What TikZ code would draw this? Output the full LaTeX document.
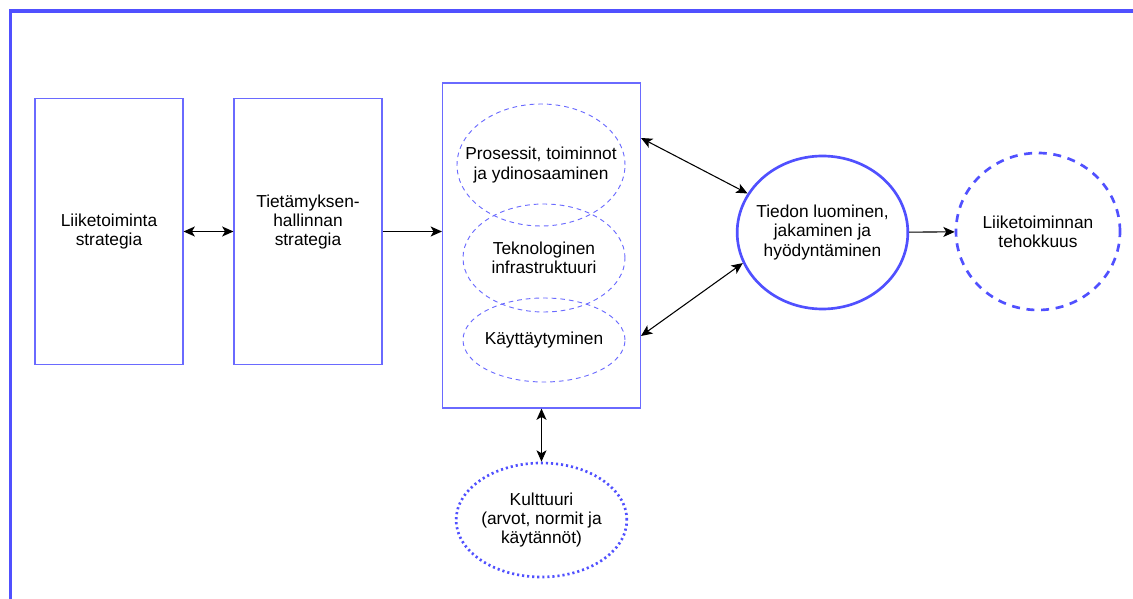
\documentclass[tikz,border=0pt]{standalone}
\usepackage{fontspec}
\setmainfont{Liberation Sans}
\usetikzlibrary{shapes.geometric,arrows.meta}

\definecolor{frameblue}{HTML}{5050FF}
\definecolor{lineblue}{HTML}{6A6AFF}

\begin{document}
\begin{tikzpicture}[x=0.75pt, y=-0.75pt,
    every node/.style={font=\fontsize{13}{14.5}\selectfont, align=center, inner sep=0pt},
    every label/.style={font=\fontsize{13}{14.5}\selectfont, align=center, inner sep=0pt},
    stratbox/.style={draw=lineblue, line width=0.8pt, minimum width=111pt, minimum height=200pt},
    partell/.style={ellipse, draw=lineblue, line width=0.7pt, dash pattern=on 3.5pt off 3pt},
    biarrow/.style={line width=0.8pt, {Stealth[length=8.5pt,width=7.5pt,inset=2.2pt]}-{Stealth[length=8.5pt,width=7.5pt,inset=2.2pt]}},
    onearrow/.style={line width=0.8pt, -{Stealth[length=8.5pt,width=7.5pt,inset=2.2pt]}}]
    \path[use as bounding box, clip] (0,0) rectangle (1133,599);
    \draw[frameblue, line width=2.6pt] (10.5,11) rectangle (1160,630);

    \node[stratbox] (strat) at (109,231.5) {Liiketoiminta\\strategia};
    \node[stratbox, label={[yshift=7pt]center:{Tietämyksen-\\hallinnan\\strategia}}] (kmstrat) at (308,231.5) {};
    \node[draw=lineblue, line width=0.8pt, minimum width=148.5pt, minimum height=243.75pt] (enablers) at (541.5,245.5) {};

    \node[partell, minimum width=126pt, minimum height=91.5pt,
          label=center:{Prosessit, toiminnot\\ja ydinosaaminen}] (process) at (541,165) {};
    \node[partell, minimum width=121.5pt, minimum height=81pt,
          label=center:{Teknologinen\\infrastruktuuri}] (techinfra) at (544,258) {};
    \node[partell, minimum width=121.5pt, minimum height=63pt,
          label=center:{Käyttäytyminen}] (behaviour) at (544,340) {};

    \node[ellipse, draw=frameblue, line width=2pt, minimum width=128pt, minimum height=114.75pt,
          label=center:{Tiedon luominen,\\jakaminen ja\\hyödyntäminen}] (knowledge) at (822.5,232.5) {};
    \node[ellipse, draw=frameblue, line width=2pt, dash pattern=on 6pt off 5pt, minimum width=123pt, minimum height=117.75pt,
          label=center:{Liiketoiminnan\\tehokkuus}] (performance) at (1038,231.5) {};
    \node[ellipse, draw=frameblue, line width=2pt, dash pattern=on 1.6pt off 2.2pt, minimum width=128pt, minimum height=85.5pt,
          label=center:{Kulttuuri\\(arvot, normit ja\\käytännöt)}] (culture) at (541.5,520) {};

    \coordinate (enabup) at (641,138);
    \coordinate (enabdown) at (641,336);

    \draw[biarrow] (strat) -- (kmstrat);
    \draw[onearrow] (kmstrat.east) -- (kmstrat.east -| enablers.west);
    \draw[biarrow] (enabup) -- (knowledge);
    \draw[biarrow] (enabdown) -- (knowledge.201);
    \draw[onearrow] (knowledge) -- (performance);
    \draw[biarrow] (enablers.south) -- (culture.north);
\end{tikzpicture}
\end{document}
